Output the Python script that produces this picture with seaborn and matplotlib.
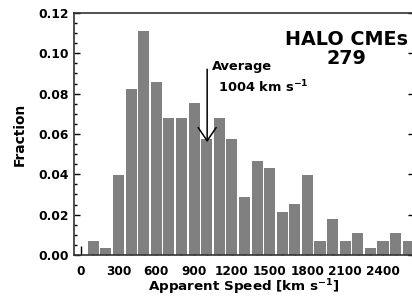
import matplotlib
matplotlib.use("Agg")
import matplotlib.pyplot as plt
import numpy as np
import pandas as pd
import seaborn as sns
from matplotlib.ticker import MultipleLocator

# Speed bins (bin centres, km/s) and number of halo CMEs in each
speeds = [100, 200, 300, 400, 500, 600, 700, 800, 900, 1000, 1100, 1200, 1300,
          1400, 1500, 1600, 1700, 1800, 1900, 2000, 2100, 2200, 2300, 2400, 2500, 2600]
counts = [2, 1, 11, 23, 31, 24, 19, 19, 21, 16, 19, 16, 8,
          13, 12, 6, 7, 11, 2, 5, 2, 3, 1, 2, 3, 2]
n_total = 279
avg_speed = 1004
x_ticks = [0, 300, 600, 900, 1200, 1500, 1800, 2100, 2400]

df = pd.DataFrame({"speed": speeds, "fraction": np.array(counts) / n_total})

sns.set_style("ticks")
plt.rcParams["font.family"] = ["DejaVu Sans"]
plt.rcParams["font.weight"] = "bold"
plt.rcParams["mathtext.default"] = "bf"
for key in ["text.color", "axes.labelcolor", "xtick.color", "ytick.color"]:
    plt.rcParams[key] = "black"

fig = plt.figure(figsize=(4.12, 2.98), dpi=100)
ax = fig.add_axes([0.1796, 0.1443, 0.825, 0.8121])

sns.barplot(data=df, x="speed", y="fraction", native_scale=True, width=0.88,
            color="#808080", saturation=1, edgecolor="none", ax=ax)

ax.set_xlim(-53, 2645)
ax.set_ylim(0, 0.12)
ax.xaxis.set_major_locator(plt.FixedLocator(x_ticks))
ax.xaxis.set_minor_locator(MultipleLocator(100))
ax.yaxis.set_major_locator(MultipleLocator(0.02))
ax.yaxis.set_minor_locator(MultipleLocator(0.005))
ax.yaxis.set_major_formatter(plt.FormatStrFormatter("%.2f"))

for s in ax.spines.values():
    s.set_visible(True)
    s.set_linewidth(1.2)
    s.set_color("#333333")

ax.tick_params(axis="x", which="major", direction="in", length=6.5, width=1,
               color="black", pad=7, labelsize=8.7, bottom=True, top=False)
ax.tick_params(axis="x", which="minor", direction="in", length=3.6, width=1,
               color="black", bottom=True, top=False)
ax.tick_params(axis="y", which="major", direction="in", length=4.5, width=1,
               color="black", pad=4, labelsize=8.9, left=True, right=True)
ax.tick_params(axis="y", which="minor", direction="in", length=2.2, width=1,
               color="black", left=True, right=False)
for lab in ax.get_xticklabels() + ax.get_yticklabels():
    lab.set_fontweight("bold")

ax.set_xlabel(r"Apparent Speed [km s$^{-1}$]", fontsize=9.7, fontweight="bold", labelpad=0)
ax.set_ylabel("Fraction", fontsize=9.9, fontweight="bold", labelpad=8)

ax.text(0.803, 0.851, f"HALO CMEs\n{n_total}", transform=ax.transAxes,
        ha="center", va="center", fontsize=13.8, fontweight="bold", linespacing=1.0)

ax.annotate("", xy=(avg_speed, 0.0546), xytext=(avg_speed, 0.0935),
            arrowprops=dict(arrowstyle="->,head_length=0.95,head_width=0.65",
                            color="black", lw=1.1))
ax.text(0.406, 0.777, "Average", transform=ax.transAxes, ha="left", va="center",
        fontsize=9.4, fontweight="bold")
ax.text(0.4235, 0.694, f"{avg_speed} km s$^{{-1}}$", transform=ax.transAxes,
        ha="left", va="center", fontsize=9.4, fontweight="bold")

fig.savefig("out.png", dpi=100)
